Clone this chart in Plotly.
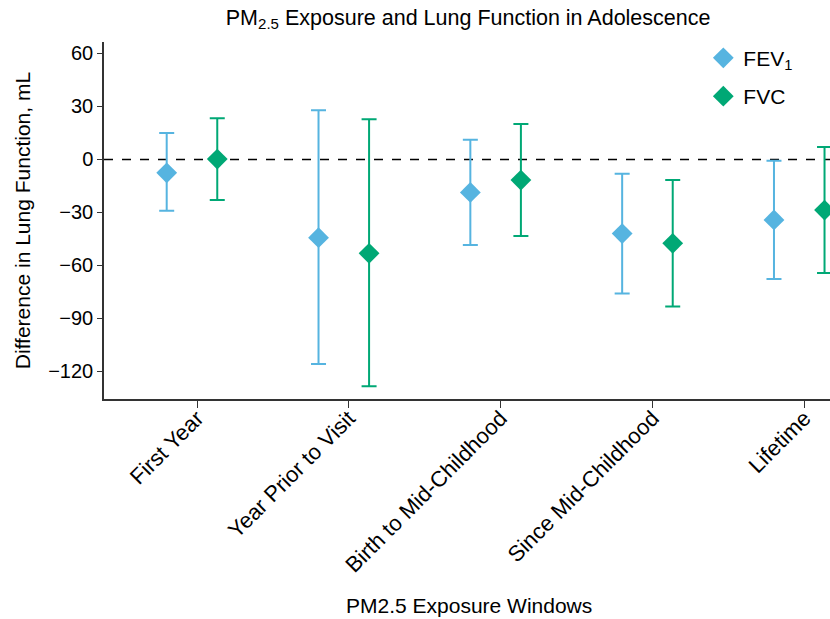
import plotly.graph_objects as go

categories = ["First Year", "Year Prior to Visit", "Birth to Mid-Childhood",
              "Since Mid-Childhood", "Lifetime"]
fev1_est = [-7.6, -44.3, -18.7, -42.0, -34.3]
fev1_upper = [15.0, 27.9, 11.1, -8.1, -0.8]
fev1_lower = [-29.1, -115.9, -48.5, -76.0, -67.7]
fvc_est = [0.2, -53.2, -11.7, -47.5, -28.7]
fvc_upper = [23.3, 22.8, 20.0, -11.7, 7.0]
fvc_lower = [-23.0, -128.5, -43.4, -83.3, -64.3]
y_ticks = [60, 30, 0, -30, -60, -90, -120]

FEV_COLOR = "#56B4E0"
FVC_COLOR = "#00A875"
FONT = "Liberation Sans, Arial, sans-serif"
AXIS_COLOR = "#333333"

xpos = list(range(1, len(categories) + 1))
fev_x = [x - 0.2 for x in xpos]
fvc_x = [x + 0.133 for x in xpos]

fig = go.Figure()
fig.add_trace(go.Scatter(
    x=fev_x, y=fev1_est, mode="markers", name="FEV<sub>1</sub>",
    legendgroup="a", cliponaxis=False,
    marker=dict(symbol="diamond", size=16, color=FEV_COLOR),
    error_y=dict(type="data", symmetric=False,
                 array=[u - e for u, e in zip(fev1_upper, fev1_est)],
                 arrayminus=[e - l for l, e in zip(fev1_lower, fev1_est)],
                 color=FEV_COLOR, thickness=2, width=7.5),
))
fig.add_trace(go.Scatter(
    x=fvc_x, y=fvc_est, mode="markers", name="FVC",
    legendgroup="b", cliponaxis=False,
    marker=dict(symbol="diamond", size=16, color=FVC_COLOR),
    error_y=dict(type="data", symmetric=False,
                 array=[u - e for u, e in zip(fvc_upper, fvc_est)],
                 arrayminus=[e - l for l, e in zip(fvc_lower, fvc_est)],
                 color=FVC_COLOR, thickness=2, width=7.5),
))

fig.add_shape(type="line", xref="paper", x0=0, x1=1, yref="y", y0=0, y1=0,
              line=dict(color="black", width=1.5, dash="dash"), layer="below")

fig.update_layout(
    width=830, height=619,
    margin=dict(l=104, r=0, t=42, b=220, autoexpand=False),
    paper_bgcolor="white", plot_bgcolor="white",
    font=dict(family=FONT, size=20, color="black"),
    showlegend=True,
    title=dict(text="PM<sub>2.5</sub> Exposure and Lung Function in Adolescence",
               x=0.564, xanchor="center", y=0.972, yanchor="middle",
               font=dict(size=21.5)),
    legend=dict(x=0.8255, y=1.012, xanchor="left", yanchor="top",
                bgcolor="rgba(0,0,0,0)", font=dict(size=21),
                tracegroupgap=8),
    xaxis=dict(range=[0.387, 5.169], tickmode="array", tickvals=xpos,
               ticktext=categories, tickangle=-45, ticks="outside",
               ticklen=7, tickcolor=AXIS_COLOR, showline=True,
               linecolor=AXIS_COLOR, automargin=False,
               ticklabelstandoff=-11,
               linewidth=1.5, showgrid=False, zeroline=False,
               tickfont=dict(size=22)),
    yaxis=dict(range=[-135.7, 66.5], tickmode="array", tickvals=y_ticks,
               ticktext=[str(v).replace("-", "\u2212") for v in y_ticks],
               ticks="outside", ticklen=5, tickcolor=AXIS_COLOR, showline=True,
               linecolor=AXIS_COLOR, linewidth=1.5, showgrid=False,
               automargin=False,
               zeroline=False, tickfont=dict(size=20)),
)
fig.add_annotation(text="Difference in Lung Function, mL", xref="paper",
                   yref="paper", x=-0.112, y=0.5, xanchor="center",
                   yanchor="middle", textangle=-90, showarrow=False,
                   font=dict(size=21))
fig.add_annotation(text="PM2.5 Exposure Windows", xref="paper", yref="paper",
                   x=0.503, y=-0.578, xanchor="center", yanchor="middle",
                   showarrow=False, font=dict(size=21))

fig.write_html("out.html", config={"displayModeBar": False},
               post_script="document.body.style.margin='0';document.body.style.padding='0';")
